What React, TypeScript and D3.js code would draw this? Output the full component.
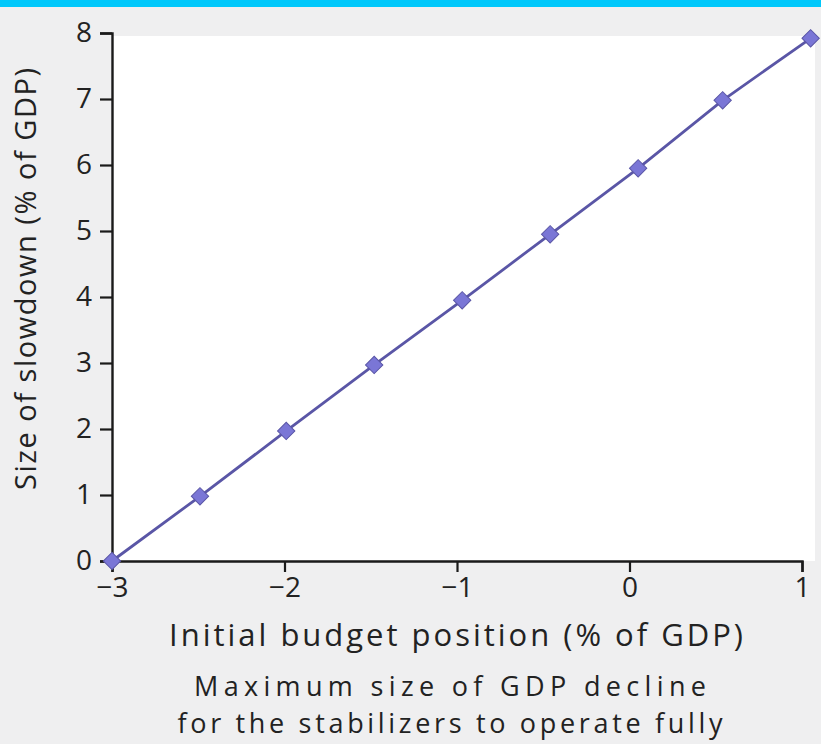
import { useEffect, useRef } from 'react'
import * as d3 from 'd3'

// budget position (% of GDP) vs size of slowdown (% of GDP)
const budgetPos = [-3, -2.49, -1.99, -1.48, -0.97, -0.46, 0.05, 0.54, 1.05]
const slowdown = [0, 0.98, 1.97, 2.97, 3.95, 4.95, 5.95, 6.98, 7.92]
const xTicks = [-3, -2, -1, 0, 1]
const yTicks = [0, 1, 2, 3, 4, 5, 6, 7, 8]

const xTitle = 'Initial budget position (% of GDP)'
const yTitle = 'Size of slowdown (% of GDP)'
const caption = ['Maximum size of GDP decline', 'for the stabilizers to operate fully']

export default function App() {
  const ref = useRef<SVGSVGElement>(null)

  useEffect(() => {
    if (!ref.current) return
    const el = ref.current
    const width = 821
    const height = 744
    const font = '"Open Sans", sans-serif'

    d3.select(el).selectAll('*').remove()
    const svg = d3.select(el).attr('width', width).attr('height', height)

    // page background + top strip
    svg.append('rect').attr('width', width).attr('height', height).attr('fill', '#efeff0')
    svg.append('rect').attr('width', width).attr('height', 7).attr('fill', '#00c8fb')

    const x = d3.scaleLinear().domain([-3, 1]).range([112, 802])
    const y = d3.scaleLinear().domain([0, 8]).range([561, 33])

    // white plotting field
    svg.append('rect')
      .attr('x', x(-3)).attr('y', 36)
      .attr('width', 815 - x(-3)).attr('height', y(0) - 36)
      .attr('fill', '#ffffff')

    svg.append('g')
      .attr('transform', `translate(${x(-3)},0)`)
      .call(d3.axisLeft(y).tickValues(yTicks).tickSize(12).tickPadding(8).tickFormat(d3.format('d')))
      .call(g => {
        g.select('.domain').attr('stroke', '#1a1a1a').attr('stroke-width', 2.4)
        g.selectAll('line').attr('stroke', '#1a1a1a').attr('stroke-width', 2.2)
        g.selectAll('text').attr('fill', '#222').attr('font-size', '28px').attr('font-family', font)
      })

    svg.append('g')
      .attr('transform', `translate(0,${y(0)})`)
      .call(d3.axisBottom(x).tickValues(xTicks).tickSize(11).tickPadding(5).tickFormat(d3.format('d')))
      .call(g => {
        g.select('.domain').attr('stroke', '#1a1a1a').attr('stroke-width', 2.4)
        g.selectAll('line').attr('stroke', '#1a1a1a').attr('stroke-width', 2.2)
        g.selectAll('text').attr('fill', '#222').attr('font-size', '28px').attr('font-family', font)
      })

    const pts = budgetPos.map((b, i) => ({ b, s: slowdown[i] }))

    const line = d3.line<{ b: number; s: number }>()
      .x(d => x(d.b))
      .y(d => y(d.s))

    svg.append('path')
      .datum(pts)
      .attr('fill', 'none')
      .attr('stroke', '#5a56a6')
      .attr('stroke-width', 2.8)
      .attr('d', line)

    svg.selectAll('path.pt')
      .data(pts)
      .join('path')
      .attr('class', 'pt')
      .attr('d', d3.symbol(d3.symbolSquare, 150)())
      .attr('transform', d => `translate(${x(d.b)},${y(d.s)}) rotate(45)`)
      .attr('fill', '#7a76d6')
      .attr('stroke', '#5a56a6')
      .attr('stroke-width', 1)

    svg.append('text')
      .attr('x', 456).attr('y', 646)
      .attr('text-anchor', 'middle')
      .attr('font-family', font).attr('font-size', '31px').attr('fill', '#222')
      .attr('textLength', 574).attr('lengthAdjust', 'spacing')
      .text(xTitle)

    svg.append('text')
      .attr('transform', 'translate(36,279) rotate(-90)')
      .attr('text-anchor', 'middle')
      .attr('font-family', font).attr('font-size', '29px').attr('fill', '#222')
      .attr('textLength', 422).attr('lengthAdjust', 'spacing')
      .text(yTitle)

    // two-line caption
    const capLens = [512, 545]
    const capY = [696, 733]
    caption.forEach((c, i) => {
      svg.append('text')
        .attr('x', 450).attr('y', capY[i])
        .attr('text-anchor', 'middle')
        .attr('font-family', font).attr('font-size', '27px').attr('fill', '#222')
        .attr('textLength', capLens[i]).attr('lengthAdjust', 'spacing')
        .text(c)
    })
  }, [])

  return <svg ref={ref} style={{ position: 'absolute', left: 0, top: 0, display: 'block' }} />
}
